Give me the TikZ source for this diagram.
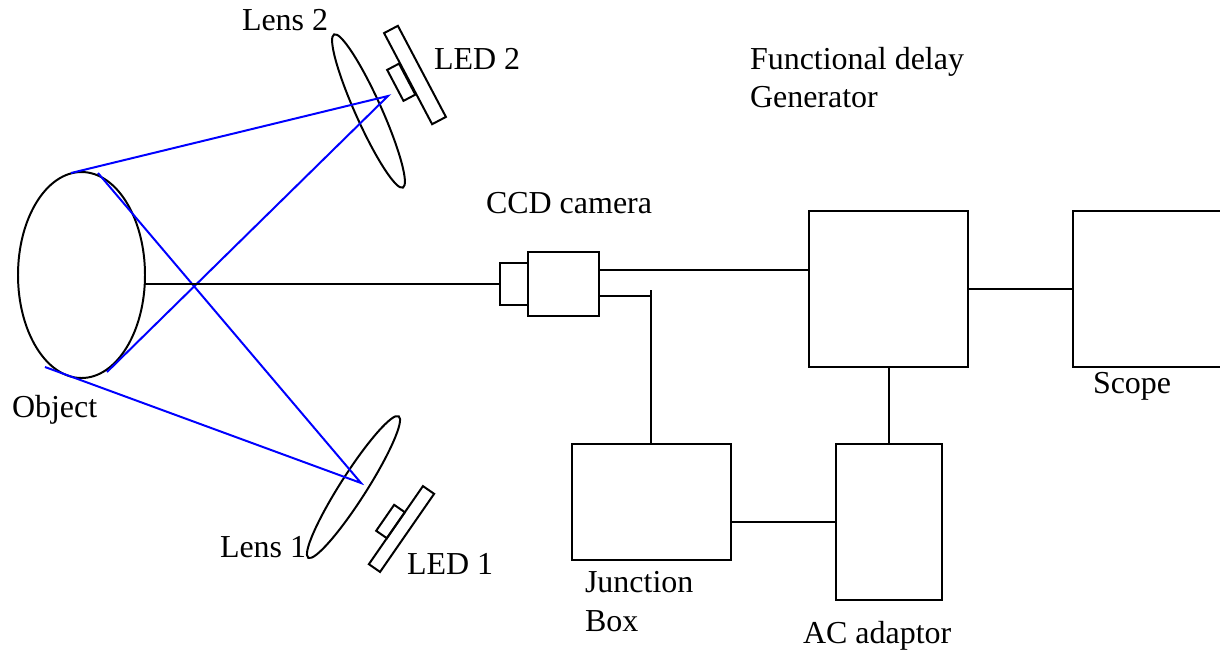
\documentclass[tikz,border=0pt]{standalone}
\usepackage{fontspec}
\setmainfont{Liberation Serif}
\usetikzlibrary{shapes.geometric}
\tikzset{
  boxsize/.style 2 args={minimum width=#1*0.02cm,minimum height=#2*0.02cm},
  part/.style={draw,line width=1.13pt,inner sep=0pt,outer sep=0pt},
  rim/.style={part,ellipse},
  label/.style={anchor=base west,inner sep=0pt,outer sep=0pt,font=\fontsize{18.2}{22}\selectfont},
  wire/.style={line width=1.13pt},
  ray/.style={blue,line width=1.13pt}
}
\begin{document}
\begin{tikzpicture}[x=0.02cm,y=-0.02cm]
  \useasboundingbox (0,0) rectangle (1220,650);
  % object and lenses
  \node[rim,boxsize={127}{206}] (object) at (81.5,275) {};
  \node[rim,boxsize={168}{26},rotate=-65.8] (lenstwo) at (368.5,111) {};
  \node[rim,boxsize={168}{26},rotate=57.4] (lensone) at (353.5,487) {};
  % leds
  \node[part,boxsize={103}{15.6},rotate=-62.2] (ledtwo) at (415,75) {};
  \node[part,boxsize={35}{13.4},rotate=-62.2] (chiptwo) at (401.25,82.25) {};
  \node[part,boxsize={95}{13.6},rotate=55.3] (ledone) at (401.5,529) {};
  \node[part,boxsize={31.6}{13},rotate=55.3] (chipone) at (390.5,521.5) {};
  % camera and boxes, the scope box runs off the page
  \node[part,boxsize={28}{42}] (ccdlens) at (514,284) {};
  \node[part,boxsize={71}{64}] (ccd) at (563.5,284) {};
  \node[part,boxsize={159}{156}] (delay) at (888.5,289) {};
  \node[part,boxsize={157}{156}] (scope) at (1151.5,289) {};
  \node[part,boxsize={159}{116}] (junction) at (651.5,502) {};
  \node[part,boxsize={106}{156}] (adaptor) at (889,522) {};
  % rays
  \coordinate (toptip) at (71,173);
  \coordinate (topin) at (98,173);
  \coordinate (lowtip) at (45,367);
  \coordinate (lowin) at (107,372);
  \coordinate (focustwo) at (388,96);
  \coordinate (focusone) at (361,483);
  \draw[ray] (toptip) -- (focustwo) -- (lowin);
  \draw[ray] (topin) -- (focusone) -- (lowtip);
  % wires
  \coordinate (tee) at (651,290);
  \draw[wire] (object.east |- ccdlens.west) -- (ccdlens.west);
  \draw[wire] (ccd.east |- 0,270) -- (delay.west |- 0,270);
  \draw[wire] (ccd.east |- 0,296) -- (tee |- 0,296);
  \draw[wire] (tee) -- (tee |- junction.north);
  \draw[wire] (delay.east) -- (scope.west);
  \draw[wire] (adaptor.north) -- (adaptor.north |- delay.south);
  \draw[wire] (junction.east |- adaptor.west) -- (adaptor.west);
  % labels
  \node[label] (lenstwotext) at (242,30) {Lens 2};
  \node[label] (ledtwotext) at (434,69) {LED 2};
  \node[label] (delaytext) at (750,69) {Functional delay};
  \node[label] (generatortext) at (750,107) {Generator};
  \node[label] (ccdtext) at (486,213) {CCD camera};
  \node[label] (objecttext) at (12,417) {Object};
  \node[label] (scopetext) at (1093,393) {Scope};
  \node[label] (lensonetext) at (220,557) {Lens 1};
  \node[label] (ledonetext) at (407,574) {LED 1};
  \node[label] (junctiontext) at (585,592) {Junction};
  \node[label] (boxtext) at (585,631) {Box};
  \node[label] (adaptortext) at (803,643) {AC adaptor};
\end{tikzpicture}
\end{document}
